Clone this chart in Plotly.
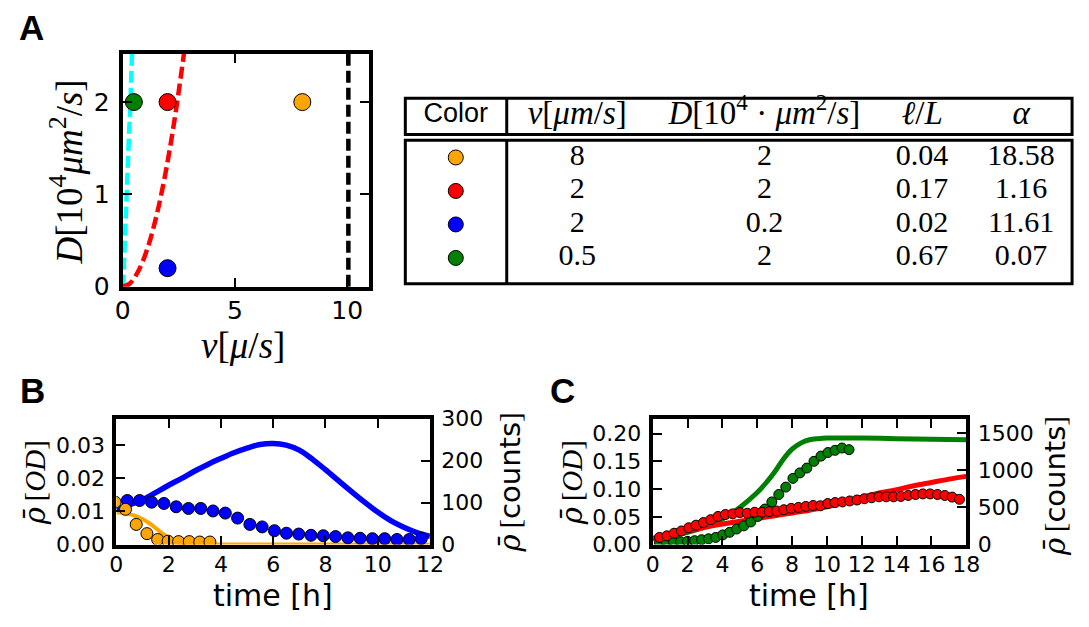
import plotly.graph_objects as go

W, H = 1089, 627

# ---------------- data ----------------
# Panel A: parameter points (v [um/s], D [1e4 um^2/s]) and regime boundaries
point_colors = ["#ffa500", "#ff0000", "#0000ff", "#008000"]
v_pts = [8, 2, 2, 0.5]
D_pts = [2, 2, 0.2, 2]

cyan_v = [0.02, 0.09, 0.17, 0.26, 0.35, 0.42]
cyan_D = [0.0, 0.5, 1.0, 1.5, 2.0, 2.55]
red_v = [0.0, 0.3, 0.7, 1.1, 1.5, 1.9, 2.3, 2.75]
red_D = [0.0, 0.03, 0.17, 0.41, 0.76, 1.22, 1.79, 2.56]
black_v = [10.05, 10.05]
black_D = [0.0, 2.6]

# Table entries
tab_header = ["Color", "<i>v</i>[<i>μm</i>/<i>s</i>]",
              "<i>D</i>[10<sup>4</sup> · <i>μm</i><sup>2</sup>/<i>s</i>]",
              "<i>ℓ</i>/<i>L</i>", "<i>α</i>"]
tab_v = ["8", "2", "2", "0.5"]
tab_D = ["2", "2", "0.2", "2"]
tab_lL = ["0.04", "0.17", "0.02", "0.67"]
tab_alpha = ["18.58", "1.16", "11.61", "0.07"]

# Panel B: model (OD) and measured (counts)
blueB_t = [0, 0.5, 1, 1.5, 2, 2.5, 3, 3.5, 4, 4.5, 5, 5.5, 6, 6.5, 7, 7.5, 8,
           8.5, 9, 9.5, 10, 10.5, 11, 11.5, 12]
blueB_od = [0.0107, 0.0120, 0.0135, 0.0157, 0.0179, 0.0200, 0.0222, 0.0242,
            0.0260, 0.0277, 0.0291, 0.0302, 0.0305, 0.0300, 0.0285, 0.0258,
            0.0226, 0.0193, 0.0160, 0.0128, 0.0098, 0.0072, 0.0052, 0.0036,
            0.0025]
orangeB_t = [0, 0.25, 0.5, 0.75, 1, 1.25, 1.5, 1.75, 2, 2.25, 2.5, 3, 3.5, 4,
             6, 8, 10, 12]
orangeB_od = [0.0097, 0.0096, 0.0092, 0.0086, 0.0077, 0.0065, 0.0050, 0.0034,
              0.0020, 0.0010, 0.0004, 0.0001, 0.0, 0.0, 0.0, 0.0, 0.0, 0.0]

blueB_dot_t = [0.42, 0.89, 1.35, 1.82, 2.29, 2.76, 3.23, 3.70, 4.17, 4.64,
               5.11, 5.58, 6.05, 6.51, 6.98, 7.45, 7.92, 8.39, 8.86, 9.33,
               9.80, 10.27, 10.74, 11.21, 11.67]
blueB_dot_c = [105, 105, 101, 98, 90, 86, 86, 80, 75, 63, 48, 42, 33, 27, 25,
               22, 21, 19, 16, 15, 14, 14, 12, 12, 14]
orangeB_dot_t = [-0.05, 0.35, 0.76, 1.17, 1.58, 1.98, 2.38, 2.79, 3.19, 3.58]
orangeB_dot_c = [101, 84, 48, 26, 12, 8, 7, 7, 6, 6]

# Panel C: model (OD) and measured (counts)
greenC_t = [0, 1, 2, 3, 4, 5, 6, 6.5, 7, 7.5, 8, 8.5, 9, 9.5, 10, 12, 14, 16, 18]
greenC_od = [0.011, 0.015, 0.022, 0.032, 0.046, 0.067, 0.094, 0.111, 0.131,
             0.154, 0.172, 0.183, 0.189, 0.191, 0.192, 0.192, 0.191, 0.190,
             0.189]
redC_t = [0, 1, 2, 3, 4, 5, 6, 7, 8, 9, 10, 11, 12, 13, 14, 15, 16, 17, 18]
redC_od = [0.011, 0.017, 0.024, 0.031, 0.037, 0.042, 0.047, 0.052, 0.057,
           0.062, 0.068, 0.077, 0.085, 0.093, 0.099, 0.106, 0.112, 0.118,
           0.123]

greenC_dot_t = [0.39, 0.79, 1.20, 1.60, 2.00, 2.41, 2.81, 3.21, 3.62, 4.02,
                4.42, 4.82, 5.23, 5.63, 6.03, 6.44, 6.84, 7.24, 7.64, 8.05,
                8.45, 8.85, 9.26, 9.66, 10.06, 10.47, 10.87, 11.27]
greenC_dot_c = [22, 22, 30, 35, 43, 52, 65, 78, 96, 130, 165, 209, 252, 304,
                378, 478, 574, 674, 774, 891, 965, 1030, 1121, 1191, 1239,
                1269, 1300, 1278]
redC_dot_t = [0.39, 0.81, 1.23, 1.65, 2.07, 2.49, 2.91, 3.33, 3.75, 4.17,
              4.59, 5.01, 5.43, 5.85, 6.27, 6.69, 7.11, 7.53, 7.95, 8.37,
              8.79, 9.21, 9.63, 10.05, 10.47, 10.89, 11.31, 11.73, 12.15,
              12.57, 12.99, 13.41, 13.83, 14.25, 14.67, 15.09, 15.51, 15.93,
              16.35, 16.77, 17.19, 17.61]
redC_dot_c = [96, 117, 152, 183, 226, 261, 296, 335, 378, 404, 413, 430, 421,
              435, 435, 443, 452, 469, 487, 500, 513, 526, 522, 552, 565, 574,
              587, 600, 617, 630, 643, 643, 643, 648, 661, 674, 682, 682, 674,
              661, 639, 609]

# ---------------- styling helpers ----------------
SANS = "DejaVu Sans"
SERIF = "Liberation Serif"
FRAME = 4
TICKLEN = 9


def px_x(p):
    return p / W


def px_y(p):
    return 1 - p / H


def frame_axis(**kw):
    base = dict(showline=True, linecolor="black", linewidth=FRAME,
                ticks="inside", ticklen=TICKLEN, tickwidth=2,
                tickcolor="black", showgrid=False, zeroline=False,
                tickfont=dict(family=SANS, size=22, color="black"))
    base.update(kw)
    return base


fig = go.Figure()

# ---------------- Panel A ----------------
dash = "12px,5px"
fig.add_trace(go.Scatter(x=cyan_v, y=cyan_D, mode="lines",
                         line=dict(color="#00ffff", width=4.5, dash=dash),
                         xaxis="x", yaxis="y", showlegend=False))
fig.add_trace(go.Scatter(x=red_v, y=red_D, mode="lines",
                         line=dict(color="#ff0000", width=4.5, dash=dash,
                                   shape="spline"),
                         xaxis="x", yaxis="y", showlegend=False))
fig.add_trace(go.Scatter(x=black_v, y=black_D, mode="lines",
                         line=dict(color="black", width=4.5, dash=dash),
                         xaxis="x", yaxis="y", showlegend=False))
fig.add_trace(go.Scatter(x=v_pts, y=D_pts, mode="markers",
                         marker=dict(color=point_colors, size=17,
                                     line=dict(color="black", width=1)),
                         xaxis="x", yaxis="y", showlegend=False))

# ---------------- Panel B ----------------
fig.add_trace(go.Scatter(x=blueB_t, y=blueB_od, mode="lines",
                         line=dict(color="#0000ff", width=5.5, shape="spline"),
                         xaxis="x2", yaxis="y2", showlegend=False))
fig.add_trace(go.Scatter(x=orangeB_t, y=orangeB_od, mode="lines",
                         line=dict(color="#ffa500", width=4, shape="spline"),
                         xaxis="x2", yaxis="y2", showlegend=False))
fig.add_trace(go.Scatter(x=blueB_dot_t, y=blueB_dot_c, mode="markers",
                         marker=dict(color="#0000ff", size=12,
                                     line=dict(color="black", width=1)),
                         xaxis="x2", yaxis="y3", showlegend=False))
fig.add_trace(go.Scatter(x=orangeB_dot_t, y=orangeB_dot_c, mode="markers",
                         marker=dict(color="#ffa500", size=12,
                                     line=dict(color="black", width=1)),
                         xaxis="x2", yaxis="y3", showlegend=False))

# ---------------- Panel C ----------------
fig.add_trace(go.Scatter(x=greenC_t, y=greenC_od, mode="lines",
                         line=dict(color="#008000", width=5, shape="spline"),
                         xaxis="x3", yaxis="y4", showlegend=False))
fig.add_trace(go.Scatter(x=redC_t, y=redC_od, mode="lines",
                         line=dict(color="#ff0000", width=5, shape="spline"),
                         xaxis="x3", yaxis="y4", showlegend=False))
fig.add_trace(go.Scatter(x=greenC_dot_t, y=greenC_dot_c, mode="markers",
                         marker=dict(color="#008000", size=10,
                                     line=dict(color="black", width=1)),
                         xaxis="x3", yaxis="y5", showlegend=False))
fig.add_trace(go.Scatter(x=redC_dot_t, y=redC_dot_c, mode="markers",
                         marker=dict(color="#ff0000", size=10,
                                     line=dict(color="black", width=1)),
                         xaxis="x3", yaxis="y5", showlegend=False))

# ---------------- Table (drawn on a hidden axis pair) ----------------
# columns in fractions of the table width, rows in row units
col_x = [0.0757, 0.2579, 0.5386, 0.7751, 0.9236]
div_x = 0.1521
rows = [0, 1, 2, 3]
head_y = -1.257
fig.add_trace(go.Scatter(x=[col_x[0]] * 4, y=rows, mode="markers",
                         marker=dict(color=point_colors, size=15,
                                     line=dict(color="black", width=1)),
                         xaxis="x4", yaxis="y6", showlegend=False))
fig.add_trace(go.Scatter(x=[col_x[0]], y=[head_y], mode="text",
                         text=[tab_header[0]],
                         textfont=dict(family="Liberation Sans", size=27,
                                       color="black"),
                         xaxis="x4", yaxis="y6", showlegend=False))
fig.add_trace(go.Scatter(x=col_x[1:], y=[head_y] * 4, mode="text",
                         text=tab_header[1:],
                         textfont=dict(family=SERIF, size=33, color="black"),
                         xaxis="x4", yaxis="y6", showlegend=False))
for cx, col in zip(col_x[1:], [tab_v, tab_D, tab_lL, tab_alpha]):
    fig.add_trace(go.Scatter(x=[cx] * 4, y=rows, mode="text", text=col,
                             textfont=dict(family=SERIF, size=30,
                                           color="black"),
                             xaxis="x4", yaxis="y6", showlegend=False))

tbl_line = dict(color="black", width=3)
head_top, head_bot, body_top, body_bot = -1.771, -0.686, -0.514, 3.771
shapes = [
    dict(type="rect", xref="x4", yref="y6", x0=0, x1=1, y0=head_top,
         y1=head_bot, line=tbl_line),
    dict(type="rect", xref="x4", yref="y6", x0=0, x1=1, y0=body_top,
         y1=body_bot, line=tbl_line),
    dict(type="line", xref="x4", yref="y6", x0=div_x, x1=div_x, y0=head_top,
         y1=head_bot, line=tbl_line),
    dict(type="line", xref="x4", yref="y6", x0=div_x, x1=div_x, y0=body_top,
         y1=body_bot, line=tbl_line),
]

# ---------------- layout ----------------
afont = dict(family=SANS, size=25, color="black")
layout = dict(
    width=W, height=H, margin=dict(l=0, r=0, t=0, b=0),
    paper_bgcolor="white", plot_bgcolor="white", showlegend=False,
    shapes=shapes,
    # Panel A
    xaxis=frame_axis(domain=[px_x(117), px_x(368)], range=[0, 10.95],
                     tickvals=[0, 5, 10], mirror="ticks", anchor="y",
                     tickfont=afont, ticklabelstandoff=-2),
    yaxis=frame_axis(domain=[px_y(287), px_y(44)], range=[0, 2.52],
                     tickvals=[0, 1, 2], mirror="ticks", anchor="x",
                     tickfont=afont, ticklabelstandoff=4),
    # Panel B
    xaxis2=frame_axis(domain=[px_x(110.6), px_x(430.6)], range=[0, 12],
                      dtick=2, tick0=0, mirror="ticks", anchor="y2",
                      ticklabelstandoff=-3),
    yaxis2=frame_axis(domain=[px_y(556.5), px_y(425)], range=[0, 0.038],
                      tickvals=[0, 0.01, 0.02, 0.03], tickformat=".2f",
                      anchor="x2", ticklabelstandoff=3),
    yaxis3=frame_axis(domain=[px_y(556.5), px_y(425)], range=[0, 300],
                      tickvals=[0, 100, 200, 300], overlaying="y2",
                      side="right", anchor="x2", ticklabelstandoff=3),
    # Panel C
    xaxis3=frame_axis(domain=[px_x(658), px_x(978)], range=[0, 18],
                      dtick=2, tick0=0, mirror="ticks", anchor="y4",
                      ticklabelstandoff=-3),
    yaxis4=frame_axis(domain=[px_y(556.5), px_y(425)], range=[0, 0.227],
                      tickvals=[0, 0.05, 0.1, 0.15, 0.2], tickformat=".2f",
                      anchor="x3", ticklabelstandoff=3),
    yaxis5=frame_axis(domain=[px_y(556.5), px_y(425)], range=[0, 1695],
                      tickvals=[0, 500, 1000, 1500], overlaying="y4",
                      side="right", anchor="x3", ticklabelstandoff=3),
    # Table
    xaxis4=dict(domain=[0.35, 1.0], range=[-0.0358, 1.0044], visible=False,
                fixedrange=True, anchor="y6"),
    yaxis6=dict(domain=[0.5, 0.9], range=[4.614, -2.551], visible=False,
                fixedrange=True, anchor="x4"),
)
fig.update_layout(**layout)

# ---------------- labels ----------------
ann = []


def label(text, x, y, size, family=SERIF, angle=0):
    ann.append(dict(text=text, x=px_x(x), y=px_y(y), xref="paper",
                    yref="paper", showarrow=False, textangle=angle,
                    xanchor="center", yanchor="middle",
                    font=dict(family=family, size=size, color="black")))


rho = '<span style="font-family:DejaVu Serif"><i>ρ̄</i></span>'
label("<b>A</b>", 24, 16, 35, family="Liberation Sans")
label("<b>B</b>", 25, 396, 35, family="Liberation Sans")
label("<b>C</b>", 566, 396, 35, family="Liberation Sans")

label("<i>D</i>[10<sup>4</sup><i>μm</i><sup>2</sup>/<i>s</i>]", 60, 167, 37,
      angle=-90)
label("<i>v</i>[<i>μ</i>/<i>s</i>]", 240, 348, 37)

label("time [h]", 270, 610, 30, family=SANS)
label("time [h]", 818, 610, 30, family=SANS)
label(rho + "\u2009[<i>OD</i>]", 27, 492, 29, angle=-90)
label(rho + "\u2009[<i>OD</i>]", 575, 492, 29, angle=-90)
counts = rho + '\u2009[<span style="font-family:DejaVu Sans">counts</span>]'
label(counts, 512, 492, 29, angle=-90)
label(counts, 1068, 495, 29, angle=-90)

fig.update_layout(annotations=ann)
fig.write_html("out.html")
